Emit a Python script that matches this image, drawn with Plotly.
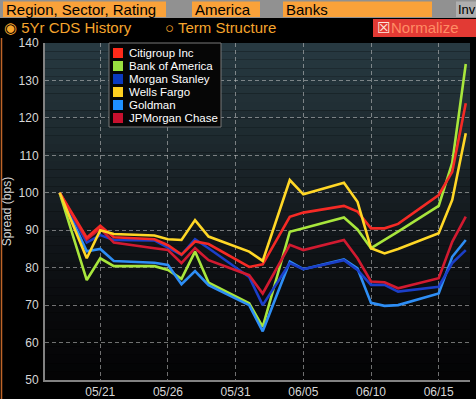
import plotly.graph_objects as go

# ---------------- data ----------------
dates = ["2009-05-18", "2009-05-20", "2009-05-21", "2009-05-22", "2009-05-25",
         "2009-05-26", "2009-05-27", "2009-05-28", "2009-05-29", "2009-06-01",
         "2009-06-02", "2009-06-04", "2009-06-05", "2009-06-08", "2009-06-09",
         "2009-06-10", "2009-06-11", "2009-06-12", "2009-06-15", "2009-06-16",
         "2009-06-17"]

citigroup = [100, 88.0, 91.2, 88.1, 87.6, 86.0, 83.5, 87.0, 86.3, 80.2, 80.9,
             93.6, 94.7, 96.5, 95.0, 90.5, 90.5, 91.7, 99.4, 105.6, 123.9]
bank_of_america = [100, 76.7, 82.5, 80.4, 80.4, 79.4, 77.0, 84.3, 76.0, 70.5, 64.2,
                   89.6, 90.5, 93.4, 90.2, 85.2, 87.4, 89.6, 96.5, 108.0, 134.4]
morgan_stanley = [100, 86.7, 88.7, 87.4, 87.3, 85.4, 83.4, 87.6, 85.2, 77.5, 70.0,
                  81.2, 79.6, 82.0, 79.4, 75.4, 75.4, 73.6, 74.9, 81.2, 84.7]
wells_fargo = [100, 82.5, 90.0, 89.0, 88.6, 87.6, 87.4, 92.7, 88.3, 84.3, 81.8,
               103.4, 99.6, 102.7, 97.6, 85.2, 83.8, 85.0, 89.2, 98.1, 115.9]
goldman = [100, 84.4, 85.0, 81.8, 81.3, 80.7, 75.6, 79.1, 75.3, 70.0, 63.0,
           81.6, 79.6, 82.2, 79.8, 70.6, 69.8, 70.0, 73.1, 82.9, 87.4]
jpmorgan = [100, 87.5, 90.5, 86.7, 85.2, 84.7, 81.2, 85.2, 82.0, 78.0, 73.1,
            86.1, 84.7, 87.4, 82.5, 76.3, 76.1, 74.5, 77.2, 86.9, 93.6]

series_names = ["Citigroup Inc", "Bank of America", "Morgan Stanley",
                "Wells Fargo", "Goldman", "JPMorgan Chase"]
series_values = [citigroup, bank_of_america, morgan_stanley,
                 wells_fargo, goldman, jpmorgan]

y_ticks = [50, 60, 70, 80, 90, 100, 110, 120, 130, 140]
x_tick_dates = ["2009-05-21", "2009-05-26", "2009-05-31", "2009-06-05",
                "2009-06-10", "2009-06-15"]
x_tick_labels = ["05/21", "05/26", "05/31", "06/05", "06/10", "06/15"]

header_fields = ["Region, Sector, Rating", "America", "Banks", "Inv"]
# --------------------------------------

line_colors = ["#F52A25", "#A8E63C", "#1B3FC8", "#FFD726", "#2E8EF5", "#D21A30"]
swatch_colors = ["#FF2A1A", "#99E040", "#0A3AC0", "#FFD020", "#1E90FF", "#C8102E"]
draw_order = [1, 4, 2, 5, 0, 3]

W, H = 476, 399
L, R, T, B = 45, 470, 43, 380


def px(x):
    return (x - L) / (R - L)


def py(y):
    return (B - y) / (B - T)


fig = go.Figure()
for i in draw_order:
    fig.add_trace(go.Scatter(
        x=dates, y=series_values[i], mode="lines", name=series_names[i],
        line=dict(color=line_colors[i], width=2.6), showlegend=False,
    ))

shapes = []
# gradient background of plot area
stops = [(0.0, (4, 4, 5)), (0.2, (9, 10, 12)), (0.45, (19, 24, 28)),
         (0.72, (30, 42, 47)), (1.0, (40, 58, 66))]


def grad(t):
    for (a, ca), (b, cb) in zip(stops[:-1], stops[1:]):
        if a <= t <= b:
            f = (t - a) / (b - a)
            return tuple(int(ca[k] + (cb[k] - ca[k]) * f) for k in range(3))
    return stops[-1][1]


N = 40
for k in range(N):
    y0 = k / N
    y1 = (k + 1) / N
    c = grad((y0 + y1) / 2)
    shapes.append(dict(type="rect", xref="paper", yref="paper", x0=0, x1=1,
                       y0=y0, y1=y1, fillcolor="rgb(%d,%d,%d)" % c,
                       line=dict(width=0), layer="below"))

# header row 1
shapes.append(dict(type="rect", xref="paper", yref="paper", x0=px(0), x1=px(W),
                   y0=py(18), y1=py(0), fillcolor="rgb(145,145,145)",
                   line=dict(width=0)))
boxes = [(3, 166, "rgb(250,162,58)"), (192, 260, "rgb(250,162,58)"),
         (283, 432, "rgb(250,162,58)"), (456, 476, "rgb(175,175,175)")]
for x0, x1, col in boxes:
    shapes.append(dict(type="rect", xref="paper", yref="paper", x0=px(x0),
                       x1=px(x1), y0=py(17), y1=py(1.5), fillcolor=col,
                       line=dict(width=0)))
# header row 2 background
shapes.append(dict(type="rect", xref="paper", yref="paper", x0=px(0), x1=px(W),
                   y0=py(37.5), y1=py(18), fillcolor="black", line=dict(width=0)))
# normalize box
shapes.append(dict(type="rect", xref="paper", yref="paper", x0=px(373), x1=px(W),
                   y0=py(37), y1=py(19), fillcolor="rgb(226,58,52)",
                   line=dict(width=0)))
# left orange border
shapes.append(dict(type="line", xref="paper", yref="paper", x0=px(1.5), x1=px(1.5),
                   y0=py(399), y1=py(38), line=dict(color="rgb(190,100,40)", width=1.5)))

# custom legend
shapes.append(dict(type="rect", xref="paper", yref="paper", x0=px(109), x1=px(221),
                   y0=py(127), y1=py(43), fillcolor="rgb(6,6,6)",
                   line=dict(color="rgb(120,120,120)", width=1)))
annotations = []
for i, name in enumerate(series_names):
    cy = 53 + 13 * i
    shapes.append(dict(type="rect", xref="paper", yref="paper", x0=px(113),
                       x1=px(123), y0=py(cy + 5), y1=py(cy - 5),
                       fillcolor=swatch_colors[i], line=dict(width=0)))
    annotations.append(dict(xref="paper", yref="paper", x=px(127), y=py(cy),
                            xanchor="left", yanchor="middle", text=name,
                            showarrow=False,
                            font=dict(family="Liberation Sans", size=11.5,
                                      color="white")))

# header texts
hx = [4, 193, 284, 456]
hs = [15, 15, 15, 13]
for t, x, s in zip(header_fields, hx, hs):
    annotations.append(dict(xref="paper", yref="paper", x=px(x), y=py(9.5),
                            xanchor="left", yanchor="middle", text=t,
                            showarrow=False,
                            font=dict(family="Liberation Sans", size=s,
                                      color="black")))
row2 = [(2, "◉ 5Yr CDS History", "rgb(245,165,45)"),
        (163, "○ Term Structure", "rgb(245,165,45)"),
        (375, "☒", "rgb(255,230,220)"),
        (389, "Normalize", "rgb(255,140,100)")]
for x, t, col in row2:
    annotations.append(dict(xref="paper", yref="paper", x=px(x), y=py(28),
                            xanchor="left", yanchor="middle", text=t,
                            showarrow=False,
                            font=dict(family="Liberation Sans", size=15,
                                      color=col)))

fig.update_layout(
    width=W, height=H,
    margin=dict(l=L, r=W - R, t=T, b=H - B, autoexpand=False),
    paper_bgcolor="black", plot_bgcolor="black",
    shapes=shapes, annotations=annotations,
    font=dict(family="Liberation Sans", size=12, color="rgb(215,215,215)"),
    showlegend=False,
)
fig.update_xaxes(
    type="date",
    range=["2009-05-16 22:00", "2009-06-17 07:30"],
    tickvals=x_tick_dates, ticktext=x_tick_labels,
    showgrid=True, gridcolor="rgba(200,200,200,0.55)", griddash="4px,3px",
    gridwidth=1,
    showline=True, linecolor="rgb(130,130,130)", linewidth=2,
    ticks="", 
    tickfont=dict(size=12, color="rgb(215,215,215)"),
    zeroline=False, automargin=False,
)
fig.update_yaxes(
    range=[50, 140], tickvals=y_ticks,
    showgrid=True, gridcolor="rgba(200,200,200,0.55)", griddash="4px,3px",
    gridwidth=1,
    showline=True, linecolor="rgb(130,130,130)", linewidth=2,
    ticks="outside", ticklen=2, tickcolor="rgba(0,0,0,0)",
    tickfont=dict(size=12, color="rgb(215,215,215)"),
    title=dict(text="Spread (bps)", standoff=6,
               font=dict(size=12, color="rgb(215,215,215)")),
    zeroline=False, automargin=False,
)

fig.write_html(
    "out.html",
    config={"displayModeBar": False},
    post_script="document.body.style.margin='0';document.body.style.overflow='hidden';",
)
